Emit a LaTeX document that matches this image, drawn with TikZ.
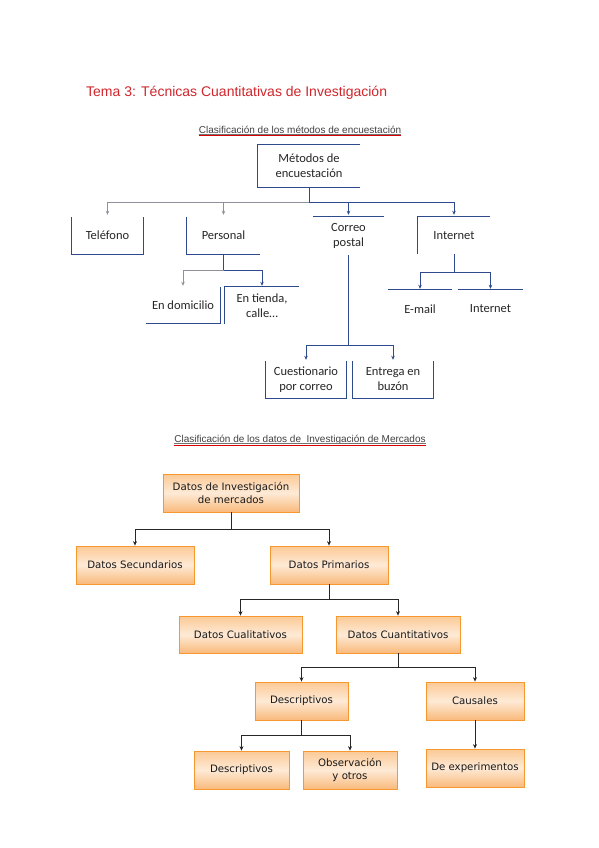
\documentclass[tikz,border=0pt]{standalone}
\usepackage{fontspec}
\setmainfont{Liberation Sans}
\newfontfamily\calfont{Carlito}
\newfontfamily\tahfont{DejaVu Sans}
\usetikzlibrary{arrows.meta}
\definecolor{lblue}{HTML}{2E4A8C}
\definecolor{lgray}{HTML}{8E909C}
\definecolor{obord}{HTML}{F7982E}
\definecolor{otop}{HTML}{FBC995}
\definecolor{omid}{HTML}{FEEAD6}
\definecolor{obot}{HTML}{F9BA7C}
\definecolor{tred}{HTML}{D0262C}
\tikzset{
  tbox/.style={font=\calfont\fontsize{12.5}{15}\selectfont, align=center, inner sep=0pt, text=black!85},
  ln/.style={draw=lblue, line width=1pt},
  lg/.style={draw=lgray, line width=1pt},
  arb/.style={ln, -{Stealth[length=4pt,width=3.5pt]}},
  arg/.style={lg, -{Stealth[length=4pt,width=3.5pt]}},
  obox/.style={draw=obord, line width=0.8pt, top color=otop, bottom color=obot, middle color=omid,
    font=\tahfont\fontsize{10.2}{12.8}\selectfont, align=center, inner sep=0pt, text=black!90},
  bln/.style={draw=black!85, line width=0.9pt},
  bar/.style={bln, -{Stealth[length=4.5pt,width=4pt]}},
  subt/.style={font=\fontsize{10}{12}\selectfont, text=black!75, inner sep=0pt, anchor=base}
}
\begin{document}
\begin{tikzpicture}[x=1pt,y=-1pt]
\useasboundingbox[fill=white] (0,0) rectangle (599,848);

% title and subtitles
\node[font=\fontsize{14}{17}\selectfont, text=tred, inner sep=0pt, anchor=base west] (tit) at (86,97) {Tema 3: Técnicas Cuantitativas de Investigación};
\node[subt] (s1) at (300,133) {Clasificación de los métodos de encuestación};
\draw[black!55, line width=0.5pt] ([yshift=-1pt]s1.base west) -- ([yshift=-1pt]s1.base east);
\draw[red!85!black, line width=1.2pt] ([yshift=-2.8pt]s1.base west) -- ([yshift=-2.8pt]s1.base east);
\node[subt] (s2) at (300,442.5) {Clasificación de los datos de\ \ Investigación de Mercados};
\draw[black!55, line width=0.5pt] ([yshift=-1pt]s2.base west) -- ([yshift=-1pt]s2.base east);
\draw[red!85!black, line width=1.2pt] ([yshift=-2.8pt]s2.base west) -- ([yshift=-2.8pt]s2.base east);

% ---- top chart ----
\node[tbox, minimum width=102pt, minimum height=42pt] (met) at (309,166) {Métodos de\\encuestación};
\draw[ln] (met.north east) -- (met.north west) -- (met.south west) -- (met.south east);

\node[tbox, minimum width=71pt, minimum height=37pt] (tel) at (107.5,235.5) {Teléfono};
\draw[ln] (tel.north west) -- (tel.south west) -- (tel.south east) -- (tel.north east);
\node[tbox, minimum width=73pt, minimum height=37pt] (per) at (223.5,235.5) {Personal};
\draw[ln] (per.north west) -- (per.south west) -- (per.south east);
\node[tbox, minimum width=71pt, minimum height=37pt] (cor) at (348.5,235.5) {Correo\\postal};
\draw[ln] (cor.north west) -- (cor.north east);
\node[tbox, minimum width=72pt, minimum height=37pt] (int) at (454,235.5) {Internet};
\draw[ln] (int.south west) -- (int.north west) -- (int.north east);

\coordinate (j1) at (309,202);
\draw[ln] (met.south) -- (j1);
\draw[arg] (j1) -| ([yshift=2pt]tel.north);
\draw[arg] (j1) -| ([yshift=2pt]per.north);
\draw[arb] (j1) -| ([yshift=2pt]cor.north);
\draw[arb] (j1) -| ([yshift=2pt]int.north);

\node[tbox, minimum width=74pt, minimum height=36pt] (dom) at (183,305) {En domicilio};
\draw[ln] (dom.north east) -- (dom.south east) -- (dom.south west);
\node[tbox, minimum width=74pt, minimum height=37pt] (tie) at (262,305.5) {En tienda,\\calle…};
\draw[ln] (tie.south west) -- (tie.north west) -- (tie.north east);
\coordinate (j2) at (223.5,270);
\draw[ln] (per.south) -- (j2);
\draw[arg] (j2) -| ([yshift=1pt]dom.north);
\draw[arb] (j2) -| ([yshift=1pt]tie.north);

\node[tbox, minimum width=64pt, minimum height=38pt] (ema) at (420,309) {E-mail};
\draw[ln] (ema.north west) -- (ema.north east);
\node[tbox, minimum width=65pt, minimum height=38pt] (in2) at (490.5,309) {Internet};
\draw[ln] (in2.north west) -- (in2.north east);
\coordinate (j4) at (454,272);
\draw[ln] (int.south) -- (j4);
\draw[arb] (j4) -| ([yshift=1pt]ema.north);
\draw[arb] (j4) -| ([yshift=1pt]in2.north);

\node[tbox, minimum width=80pt, minimum height=37pt] (cue) at (306,379.5) {Cuestionario\\por correo};
\draw[ln] (cue.north west) -- (cue.south west) -- (cue.south east) -- (cue.north east);
\node[tbox, minimum width=80pt, minimum height=37pt] (ent) at (393,379.5) {Entrega en\\buzón};
\draw[ln] (ent.north west) -- (ent.south west) -- (ent.south east) -- (ent.north east);
\coordinate (j3) at (348.5,345);
\draw[ln] ([yshift=-1pt]cor.south) -- (j3);
\draw[arb] (j3) -| ([yshift=1pt]cue.north);
\draw[arb] (j3) -| ([yshift=1pt]ent.north);

% ---- bottom chart ----
\node[obox, minimum width=136pt, minimum height=38pt] (dim) at (231,493) {Datos de Investigación\\de mercados};
\node[obox, minimum width=118pt, minimum height=38pt] (sec) at (135,565) {Datos Secundarios};
\node[obox, minimum width=118pt, minimum height=38pt] (pri) at (329,565) {Datos Primarios};
\node[obox, minimum width=123pt, minimum height=37pt] (cua) at (240.5,634.5) {Datos Cualitativos};
\node[obox, minimum width=124pt, minimum height=37pt] (cun) at (398,634.5) {Datos Cuantitativos};
\node[obox, minimum width=93pt, minimum height=38pt] (des) at (301.5,701) {Descriptivos};
\node[obox, minimum width=98pt, minimum height=38pt] (cau) at (475,701) {Causales};
\node[obox, minimum width=95pt, minimum height=38pt] (de2) at (241.5,770) {Descriptivos};
\node[obox, minimum width=94pt, minimum height=38pt] (obs) at (350,770) {Observación\\y otros};
\node[obox, minimum width=98pt, minimum height=38pt] (exp) at (475,768) {De experimentos};

\coordinate (k1) at (231,529);
\draw[bln] (dim.south) -- (k1);
\draw[bar] (k1) -| (sec.north);
\draw[bar] (k1) -| (pri.north);
\coordinate (k2) at (329,599);
\draw[bln] (pri.south) -- (k2);
\draw[bar] (k2) -| (cua.north);
\draw[bar] (k2) -| (cun.north);
\coordinate (k3) at (398,667);
\draw[bln] (cun.south) -- (k3);
\draw[bar] (k3) -| (des.north);
\draw[bar] (k3) -| (cau.north);
\coordinate (k4) at (301.5,735);
\draw[bln] (des.south) -- (k4);
\draw[bar] (k4) -| (de2.north);
\draw[bar] (k4) -| (obs.north);
\draw[bar] (cau.south) -- (exp.north);
\end{tikzpicture}
\end{document}
